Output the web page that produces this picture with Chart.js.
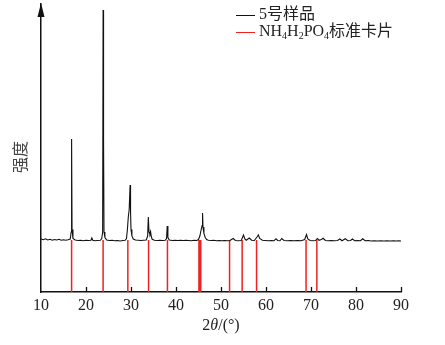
<!DOCTYPE html>
<html>
<head>
<meta charset="utf-8">
<script src="https://cdn.jsdelivr.net/npm/chart.js@4/dist/chart.umd.min.js"></script>
<style>
  html, body { margin: 0; padding: 0; background: #fff; }
  #wrap { width: 445px; height: 345px; }
</style>
</head>
<body>
<div id="wrap"><canvas id="xrdChart"></canvas></div>
<script>
// sample 5 pattern (2theta, intensity in a.u.)
var twoTheta = [10.0,10.5,11.0,11.5,12.0,12.5,13.0,13.5,14.0,14.5,15.0,15.5,16.0,16.5,16.7,16.8,16.9,17.1,17.6,18.2,
  18.8,19.4,20.0,20.6,21.1,21.3,21.5,22.0,22.6,23.2,23.5,23.7,23.8,23.9,24.0,24.2,24.6,25.2,25.8,26.4,
  27.0,27.6,28.2,28.7,29.0,29.2,29.4,29.6,29.8,29.9,30.0,30.2,30.5,31.0,31.6,32.2,32.8,33.4,33.7,33.85,
  34.0,34.2,34.35,34.5,34.7,35.2,35.8,36.4,37.0,37.6,37.9,38.05,38.2,38.5,39.2,39.8,40.4,41.0,41.6,42.2,
  42.8,43.4,44.0,44.6,45.0,45.3,45.6,45.8,45.9,46.0,46.2,46.5,46.8,47.2,47.8,48.4,49.0,49.6,50.2,50.8,
  51.4,52.0,52.7,53.2,53.8,54.5,55.0,55.3,55.6,56.3,56.8,57.4,58.0,58.3,58.6,59.2,59.8,60.5,61.2,61.8,
  62.2,62.6,63.1,63.5,64.0,64.8,65.5,66.2,67.0,67.8,68.6,69.0,69.3,69.8,70.4,71.0,71.4,71.8,72.3,72.7,
  73.2,73.8,74.5,75.2,75.9,76.4,76.9,77.6,78.2,78.8,79.2,79.7,80.3,81.0,81.5,82.0,82.7,83.4,84.1,84.8,
  85.5,86.2,86.9,87.6,88.3,89.0,89.5,90.0];
var intensity = [212,209,213,208,211,207,210,208,211,207,209,207,209,212,240,612,250,214,208,206,
  207,205,207,206,207,216,207,205,206,207,214,240,1128,620,240,218,208,206,207,205,
  206,204,206,207,214,250,300,330,428,320,250,224,212,208,207,206,207,208,224,300,
  240,232,242,222,211,207,206,207,206,207,214,264,218,208,206,207,206,207,206,207,
  206,205,207,206,210,224,250,266,316,260,234,218,210,207,206,207,205,206,205,206,
  205,206,214,206,205,206,228,212,207,216,207,206,220,228,214,207,206,205,206,205,
  213,206,205,214,206,205,206,205,206,205,210,230,212,206,205,206,214,207,210,215,
  206,205,206,205,206,212,205,213,205,206,212,205,206,205,213,205,206,204,205,204,
  205,204,205,204,205,204,205,204];

// NH4H2PO4 standard card lines
var refPeaks = [16.8,23.8,29.3,33.9,38.1,45.1,45.3,45.5,51.9,54.7,57.9,68.9,71.3];
var refHeight = [208,208,208,208,208,208,208,208,208,208,208,208,208];

var xTicks = [10,20,30,40,50,60,70,80,90];
var seriesNames = ['5号样品', 'NH4H2PO4标准卡片'];
var seriesColors = ['#111111', '#ee2222'];

var samplePts = twoTheta.map(function (t, i) { return {x: t, y: intensity[i]}; });
var refPts = [];
refPeaks.forEach(function (p, i) {
    refPts.push({x: p, y: 0});
    refPts.push({x: p, y: refHeight[i]});
    refPts.push({x: p, y: null});
});

var serif = '"Liberation Serif", "Times New Roman", "Noto Sans CJK SC", serif';

var decor = {
    id: 'decor',
    afterDraw: function (chart) {
        var ctx = chart.ctx, a = chart.chartArea;
        var xs = chart.scales.x;
        ctx.save();
        // arrow on y axis
        ctx.fillStyle = '#111';
        ctx.beginPath();
        ctx.moveTo(a.left, a.top - 1);
        ctx.lineTo(a.left - 3.5, a.top + 13);
        ctx.lineTo(a.left + 3.5, a.top + 13);
        ctx.closePath();
        ctx.fill();
        // inward tick marks
        ctx.strokeStyle = '#111';
        ctx.lineWidth = 1.3;
        xTicks.forEach(function (t) {
            if (t === xTicks[0]) return;
            var px = Math.round(xs.getPixelForValue(t)) + 0.5;
            ctx.beginPath();
            ctx.moveTo(px, a.bottom);
            ctx.lineTo(px, a.bottom - 5);
            ctx.stroke();
        });
        // x title: 2θ/(°)
        ctx.fillStyle = '#222';
        ctx.textBaseline = 'middle';
        var parts = [['2', 'normal'], ['θ', 'italic'], ['/(°)', 'normal']];
        var w = 0;
        parts.forEach(function (p) { ctx.font = p[1] + ' 16px ' + serif; w += ctx.measureText(p[0]).width; });
        var cx = (a.left + a.right) / 2 - w / 2;
        parts.forEach(function (p) {
            ctx.font = p[1] + ' 16px ' + serif;
            ctx.fillText(p[0], cx, 326);
            cx += ctx.measureText(p[0]).width;
        });
        // y title
        ctx.save();
        ctx.translate(20, 157);
        ctx.rotate(-Math.PI / 2);
        ctx.textAlign = 'center';
        ctx.font = '16px "Noto Sans CJK SC", sans-serif';
        ctx.fillStyle = '#444';
        ctx.fillText('强度', 0, 0);
        ctx.restore();
        // legend
        seriesNames.forEach(function (name, i) {
            var y = 15 + i * 17;
            ctx.strokeStyle = seriesColors[i];
            ctx.lineWidth = 1;
            ctx.beginPath();
            ctx.moveTo(236, y + 0.5);
            ctx.lineTo(255, y + 0.5);
            ctx.stroke();
            var lx = 259;
            ctx.fillStyle = '#222';
            name.split(/(\d)/).forEach(function (seg, k) {
                if (!seg) return;
                var sub = (k % 2 === 1) && i === 1;
                ctx.font = (sub ? '10px ' : '16px ') + serif;
                ctx.fillText(seg, lx, sub ? y + 4 : y);
                lx += ctx.measureText(seg).width;
            });
        });
        ctx.restore();
    }
};

var ctx = document.getElementById('xrdChart').getContext('2d');
var myChart = new Chart(ctx, {
    type: 'line',
    data: {
        datasets: [{
            label: seriesNames[1],
            data: refPts,
            borderColor: seriesColors[1],
            borderWidth: 1.5,
            pointRadius: 0,
            spanGaps: false,
            order: 2
        }, {
            label: seriesNames[0],
            data: samplePts,
            borderColor: seriesColors[0],
            borderWidth: 1.1,
            pointRadius: 0,
            tension: 0,
            clip: false,
            order: 1
        }]
    },
    options: {
        responsive: true,
        maintainAspectRatio: false,
        animation: false,
        layout: { padding: { top: 4, right: 44, left: 0, bottom: 0 } },
        plugins: { legend: { display: false }, tooltip: { enabled: false } },
        scales: {
            x: {
                type: 'linear',
                min: 10, max: 90,
                afterBuildTicks: function (s) { s.ticks = xTicks.map(function (v) { return {value: v}; }); },
                afterFit: function (s) { s.height = 53; },
                grid: { display: false, drawTicks: false },
                border: { display: true, color: '#111', width: 1.5 },
                ticks: { color: '#222', padding: 4, font: { family: serif, size: 16 } }
            },
            y: {
                min: 0, max: 1152,
                afterFit: function (s) { s.width = 41; },
                grid: { display: false, drawTicks: false },
                border: { display: true, color: '#111', width: 1.5 },
                ticks: { display: false }
            }
        }
    },
    plugins: [decor]
});
</script>
</body>
</html>
